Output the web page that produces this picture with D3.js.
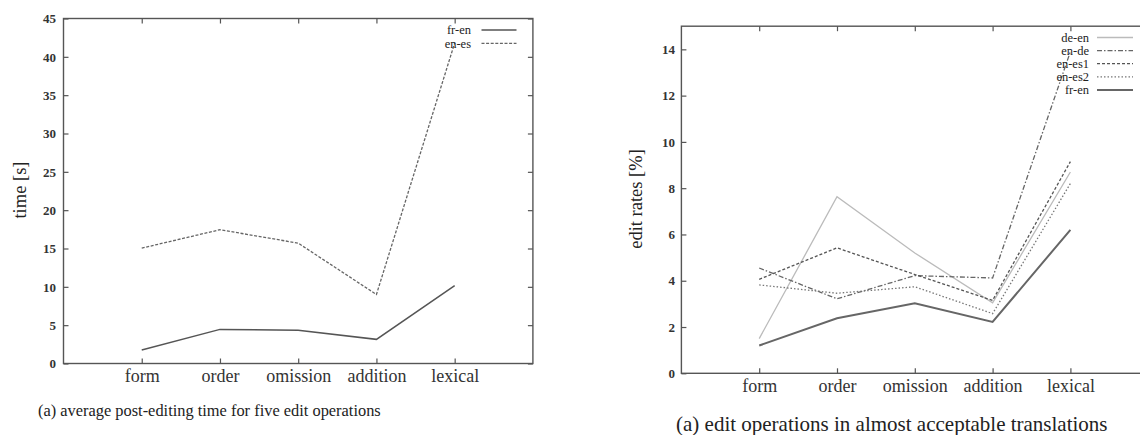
<!DOCTYPE html>
<html>
<head>
<meta charset="utf-8">
<script src="https://cdn.jsdelivr.net/npm/d3@7"></script>
<style>
  body { margin: 0; background: #fff; }
  svg text { font-family: "Liberation Serif", "DejaVu Serif", serif; fill: #222; }
  .tick text { fill: #333; }
</style>
</head>
<body>
<div id="chart"></div>
<script>
// categories (edit operations)
const categories = ['form', 'order', 'omission', 'addition', 'lexical'];

// (a) left: average post-editing time [s]
const timeFrEn = [1.75, 4.45, 4.35, 3.15, 10.15];
const timeEnEs = [15.05, 17.45, 15.7, 9.0, 41.8];
const timeTicks = [0, 5, 10, 15, 20, 25, 30, 35, 40, 45];

// (a) right: edit rates [%]
const rateDeEn = [1.5, 7.63, 5.2, 3.05, 8.7];
const rateEnDe = [4.55, 3.22, 4.22, 4.12, 13.9];
const rateEnEs1 = [4.06, 5.42, 4.27, 3.15, 9.15];
const rateEnEs2 = [3.82, 3.46, 3.74, 2.58, 8.2];
const rateFrEn = [1.2, 2.38, 3.03, 2.22, 6.2];
const rateTicks = [0, 2, 4, 6, 8, 10, 12, 14];

const svg = d3.select('#chart')
  .append('svg')
  .attr('width', 1140)
  .attr('height', 435);

// draws one gnuplot-like panel
function panel(opt) {
  const x = d3.scaleLinear().domain([0, 6]).range(opt.xRange);
  const y = d3.scaleLinear().domain(opt.yDomain).range(opt.yRange);
  const g = svg.append('g');
  const idx = categories.map((d, i) => i + 1);

  // frame
  g.append('rect')
    .attr('x', x(0))
    .attr('y', y(opt.yDomain[1]))
    .attr('width', x(6) - x(0))
    .attr('height', y(opt.yDomain[0]) - y(opt.yDomain[1]))
    .attr('fill', 'none')
    .attr('stroke', '#555')
    .attr('stroke-width', 1.4);

  const yl = g.append('g')
    .attr('transform', `translate(${x(0)},0)`)
    .call(d3.axisLeft(y).tickValues(opt.yTicks).tickSize(-5).tickPadding(opt.yPad));
  yl.selectAll('text').style('font-size', '13px').style('font-weight', 'bold');

  g.append('g')
    .attr('transform', `translate(${x(6)},0)`)
    .call(d3.axisRight(y).tickValues(opt.yTicks).tickSize(-5).tickFormat(''));

  const xb = g.append('g')
    .attr('transform', `translate(0,${y(opt.yDomain[0])})`)
    .call(d3.axisBottom(x).tickValues(idx).tickSize(-5).tickPadding(5.5)
      .tickFormat(i => categories[i - 1]));
  xb.selectAll('text').style('font-size', '18px');

  g.append('g')
    .attr('transform', `translate(0,${y(opt.yDomain[1])})`)
    .call(d3.axisTop(x).tickValues(idx).tickSize(-5).tickFormat(''));

  g.selectAll('.domain').remove();
  g.selectAll('.tick line').attr('stroke', '#555').attr('stroke-width', 1.2);

  // y label
  g.append('text')
    .attr('transform', `translate(${opt.labelX},${opt.labelY}) rotate(-90)`)
    .attr('text-anchor', 'middle')
    .attr('dy', '0.35em')
    .style('font-size', '18.5px')
    .text(opt.yLabel);

  const line = d3.line()
    .x((d, i) => x(i + 1))
    .y(d => y(d));

  opt.series.forEach(s => {
    g.append('path')
      .datum(s.values)
      .attr('d', line)
      .attr('fill', 'none')
      .attr('stroke', s.color)
      .attr('stroke-width', s.width)
      .attr('stroke-dasharray', s.dash);
  });

  // legend
  opt.series.forEach((s, i) => {
    const ly = opt.legY + i * opt.legStep;
    g.append('text')
      .attr('x', opt.legTextX)
      .attr('y', ly)
      .attr('dy', '0.35em')
      .attr('text-anchor', 'end')
      .style('font-size', '12.5px')
      .text(s.name);
    g.append('line')
      .attr('x1', opt.legLine[0])
      .attr('x2', opt.legLine[1])
      .attr('y1', ly)
      .attr('y2', ly)
      .attr('stroke', s.color)
      .attr('stroke-width', s.width)
      .attr('stroke-dasharray', s.dash);
  });

  // caption
  svg.append('text')
    .attr('x', opt.capX)
    .attr('y', opt.capY)
    .style('font-size', opt.capSize)
    .text(opt.caption);
}

panel({
  xRange: [63.5, 532.9],
  yDomain: [0, 45],
  yRange: [363.5, 18.5],
  yTicks: timeTicks,
  yPad: 7.5,
  yLabel: 'time [s]',
  labelX: 20,
  labelY: 190,
  series: [
    { name: 'fr-en', values: timeFrEn, color: '#555', width: 1.5, dash: null },
    { name: 'en-es', values: timeEnEs, color: '#666', width: 1.3, dash: '3,1.6' }
  ],
  legY: 30,
  legStep: 13.3,
  legTextX: 471,
  legLine: [481.5, 516.5],
  caption: '(a) average post-editing time for five edit operations',
  capX: 38,
  capY: 416,
  capSize: '16.4px'
});

panel({
  xRange: [681.4, 1148.2],
  yDomain: [0, 15],
  yRange: [373.3, 26.2],
  yTicks: rateTicks,
  yPad: 6.5,
  yLabel: 'edit rates [%]',
  labelX: 636,
  labelY: 199,
  series: [
    { name: 'de-en', values: rateDeEn, color: '#bbb', width: 1.3, dash: null },
    { name: 'en-de', values: rateEnDe, color: '#666', width: 1.3, dash: '5,2,1.5,2' },
    { name: 'en-es1', values: rateEnEs1, color: '#555', width: 1.3, dash: '3,2' },
    { name: 'en-es2', values: rateEnEs2, color: '#777', width: 1.3, dash: '1.5,2' },
    { name: 'fr-en', values: rateFrEn, color: '#666', width: 2, dash: null }
  ],
  legY: 37.5,
  legStep: 13.1,
  legTextX: 1089,
  legLine: [1097, 1133],
  caption: '(a) edit operations in almost acceptable translations',
  capX: 676,
  capY: 431,
  capSize: '21px'
});
</script>
</body>
</html>
